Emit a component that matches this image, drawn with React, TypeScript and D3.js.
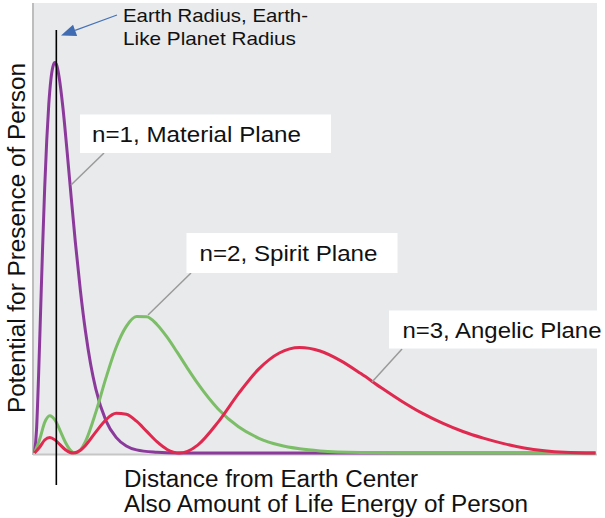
import React from "react";
import * as d3 from "d3";

// ---- data ----
const rPurple = [0, 0.1, 0.2, 0.3, 0.4, 0.5, 0.6, 0.7, 0.8, 0.9, 1.0, 1.1, 1.2, 1.4, 1.6, 1.8, 2.0, 2.25, 2.5, 2.75, 3.0, 3.5, 4.0, 4.5, 5, 6, 7, 27.5];
const vPurple = [0, 6.0, 19.8, 36.5, 53.1, 68.0, 80.1, 89.3, 95.5, 98.9, 100, 99.1, 96.5, 88.1, 77.1, 65.4, 54.1, 41.6, 31.1, 22.8, 16.5, 8.3, 4.0, 1.8, 0.8, 0.2, 0, 0];

const rGreen = [0, 0.25, 0.5, 0.75, 1.0, 1.25, 1.5, 1.75, 2.0, 2.25, 2.5, 3, 3.5, 4, 4.5, 5, 5.5, 6, 6.5, 7, 7.5, 8, 9, 10, 11, 12, 13, 14, 16, 18, 27.5];
const vGreen = [0, 3.44, 7.86, 9.57, 8.48, 5.8, 2.89, 0.77, 0, 0.77, 2.96, 10.33, 19.18, 27.02, 32.41, 34.94, 34.91, 32.91, 29.65, 25.75, 21.69, 17.82, 11.29, 6.7, 3.77, 2.04, 1.07, 0.54, 0.13, 0.03, 0];

const rRed = [0, 0.25, 0.5, 0.75, 1, 1.25, 1.5, 1.75, 1.9, 2.25, 2.5, 3, 3.5, 4, 4.5, 5, 5.5, 6, 6.5, 7.1, 7.5, 8, 9, 10, 11, 12, 13, 14, 15, 16, 17, 18, 19, 20, 21, 22, 23, 24, 25, 26, 27.5];
const vRed = [0, 1.47, 3.32, 3.95, 3.36, 2.14, 0.91, 0.14, 0, 0.7, 1.93, 5.34, 8.5, 10.16, 9.94, 8.15, 5.53, 2.89, 0.91, 0, 0.42, 2.02, 7.92, 15.21, 21.54, 25.61, 27.01, 26.13, 23.67, 20.33, 16.71, 13.27, 10.2, 7.64, 5.5, 3.8, 2.4, 1.3, 0.6, 0.2, 0];

const earthRadius = 1.07;
const seriesLabels = ["n=1, Material Plane", "n=2, Spirit Plane", "n=3, Angelic Plane"];
const annotationLines = ["Earth Radius, Earth-", "Like Planet Radius"];
const xTitleLines = ["Distance from Earth Center", "Also Amount of Life Energy of Person"];
const yTitle = "Potential for Presence of Person";

const W = 605;
const H = 518;
const FONT = "'Liberation Sans', Arial, sans-serif";

export default function App() {
  const plot = { left: 33, right: 597, top: 3, bottom: 455 };
  const x = d3.scaleLinear().domain([0, 27.5]).range([34.5, 595.5]);
  const y = d3.scaleLinear().domain([0, 100]).range([453, 62.5]);
  const line = d3
    .line<[number, number]>()
    .x((d) => x(d[0]))
    .y((d) => y(d[1]))
    .curve(d3.curveMonotoneX);

  const series = [
    { r: rPurple, v: vPurple, color: "#8b3a9c" },
    { r: rGreen, v: vGreen, color: "#7cbd67" },
    { r: rRed, v: vRed, color: "#e0294f" },
  ];

  const labels = [
    { box: [80, 114.5, 251, 38.5], tx: 92, ty: 141.5, tl: 209, lead: [104, 153, 71, 185] },
    { box: [186.5, 233, 211, 40], tx: 199.5, ty: 261, tl: 178, lead: [191, 273, 148, 315] },
    { box: [389, 310.5, 220, 38], tx: 402.5, ty: 337.5, tl: 199, lead: [402, 349, 372, 382] },
  ];

  // arrow
  const tail = [117, 15];
  const tip = [61, 35.5];
  const ang = Math.atan2(tip[1] - tail[1], tip[0] - tail[0]);
  const headLen = 15;
  const headW = 6;
  const bx = tip[0] - headLen * Math.cos(ang);
  const by = tip[1] - headLen * Math.sin(ang);
  const px = -Math.sin(ang) * headW;
  const py = Math.cos(ang) * headW;
  const head = `${tip[0]},${tip[1]} ${bx + px},${by + py} ${bx - px},${by - py}`;

  const xr = x(earthRadius);

  return (
    <svg
      width={W}
      height={H}
      style={{ position: "absolute", left: 0, top: 0, background: "#fff" }}
      fontFamily={FONT}
    >
      <rect x={plot.left} y={plot.top} width={plot.right - plot.left} height={plot.bottom - plot.top} fill="#e9eaec" />
      <line x1={plot.left} x2={plot.left} y1={plot.top} y2={plot.bottom} stroke="#bdbdbd" strokeWidth={2} />
      <line x1={plot.left} x2={plot.right} y1={plot.bottom - 0.5} y2={plot.bottom - 0.5} stroke="#c6c6c6" strokeWidth={2} />

      {series.map((s, i) => (
        <path
          key={i}
          d={line(s.r.map((r, j) => [r, s.v[j]] as [number, number])) || ""}
          fill="none"
          stroke={s.color}
          strokeWidth={3}
          strokeLinejoin="round"
        />
      ))}

      {labels.map((l, i) => (
        <g key={i}>
          <line x1={l.lead[0]} y1={l.lead[1]} x2={l.lead[2]} y2={l.lead[3]} stroke="#9a9a9a" strokeWidth={1.5} />
          <rect x={l.box[0]} y={l.box[1]} width={l.box[2]} height={l.box[3]} fill="#ffffff" />
          <text x={l.tx} y={l.ty} fontSize={21.5} fill="#111" textLength={l.tl} lengthAdjust="spacingAndGlyphs">
            {seriesLabels[i]}
          </text>
        </g>
      ))}

      <line x1={xr} x2={xr} y1={30} y2={485} stroke="#000" strokeWidth={1.6} />

      <line x1={tail[0]} y1={tail[1]} x2={bx} y2={by} stroke="#4672b8" strokeWidth={1.2} />
      <polygon points={head} fill="#3f6cb3" />

      <text x={123} y={22} fontSize={19} fill="#111" textLength={185} lengthAdjust="spacingAndGlyphs">
        {annotationLines[0]}
      </text>
      <text x={123} y={45} fontSize={19} fill="#111" textLength={173} lengthAdjust="spacingAndGlyphs">
        {annotationLines[1]}
      </text>

      <text x={124} y={486.5} fontSize={23.5} fill="#111" textLength={294} lengthAdjust="spacingAndGlyphs">
        {xTitleLines[0]}
      </text>
      <text x={124} y={512} fontSize={23.5} fill="#111" textLength={404} lengthAdjust="spacingAndGlyphs">
        {xTitleLines[1]}
      </text>

      <text
        transform="translate(24.5, 413) rotate(-90)"
        fontSize={23.5}
        fill="#111"
        textLength={350}
        lengthAdjust="spacingAndGlyphs"
      >
        {yTitle}
      </text>
    </svg>
  );
}
